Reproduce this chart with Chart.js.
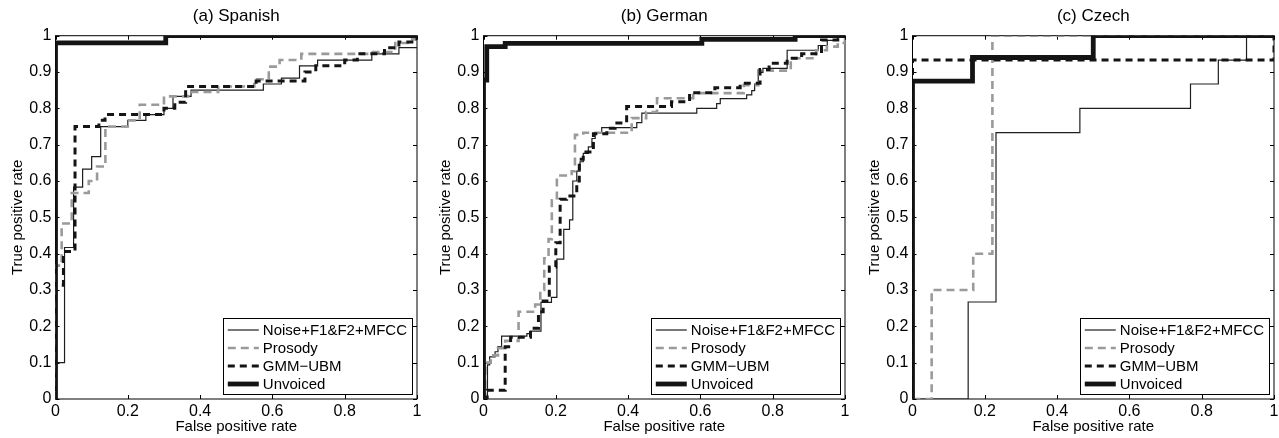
<!DOCTYPE html>
<html>
<head>
<meta charset="utf-8">
<script src="https://cdn.jsdelivr.net/npm/chart.js@4.4.1/dist/chart.umd.min.js"></script>
<style>
  body { margin: 0; background: #fff; overflow: hidden; }
  .panel { position: absolute; top: 0; width: 425px; height: 438px; }
</style>
</head>
<body>
<div class="panel" style="left:0px"><canvas id="spanish"></canvas></div>
<div class="panel" style="left:428px"><canvas id="german"></canvas></div>
<div class="panel" style="left:857px"><canvas id="czech"></canvas></div>
<script>
// series names / legend labels
const seriesNames = ['Noise+F1&F2+MFCC', 'Prosody', 'GMM\u2212UBM', 'Unvoiced'];
const xTicks = [0, 0.2, 0.4, 0.6, 0.8, 1];
const yTicks = [0, 0.1, 0.2, 0.3, 0.4, 0.5, 0.6, 0.7, 0.8, 0.9, 1];

// (a) Spanish
const esNoiseFpr = [0, 0, 0.025, 0.05, 0.075, 0.1, 0.125, 0.2, 0.25, 0.3, 0.325, 0.375, 0.575, 0.625, 0.675, 0.725, 0.875, 0.95, 1];
const esNoiseTpr = [0, 0.1, 0.417, 0.583, 0.633, 0.667, 0.75, 0.767, 0.783, 0.8, 0.833, 0.85, 0.867, 0.883, 0.917, 0.933, 0.95, 0.967, 0.967];
const esProsFpr = [0, 0, 0.017, 0.045, 0.092, 0.115, 0.138, 0.138, 0.2, 0.233, 0.3, 0.367, 0.45, 0.55, 0.59, 0.62, 0.68, 0.87, 0.94, 0.975, 1];
const esProsTpr = [0, 0.367, 0.483, 0.567, 0.6, 0.64, 0.69, 0.75, 0.767, 0.81, 0.833, 0.845, 0.86, 0.88, 0.915, 0.933, 0.95, 0.955, 0.98, 0.99, 1];
const esGmmFpr = [0, 0, 0.022, 0.054, 0.12, 0.137, 0.3, 0.33, 0.36, 0.555, 0.69, 0.72, 0.8, 0.835, 0.91, 0.95, 1];
const esGmmTpr = [0, 0.313, 0.406, 0.75, 0.767, 0.783, 0.8, 0.817, 0.86, 0.875, 0.9, 0.917, 0.933, 0.95, 0.967, 0.983, 1];
const esUnvFpr = [0, 0, 0.305, 1];
const esUnvTpr = [0, 0.98, 1, 1];

// (b) German
const deNoiseFpr = [0, 0.011, 0.017, 0.032, 0.04, 0.05, 0.12, 0.129, 0.159, 0.188, 0.203, 0.222, 0.222, 0.238, 0.247, 0.258, 0.267, 0.276, 0.29, 0.3, 0.309, 0.327, 0.424, 0.438, 0.59, 0.645, 0.655, 0.728, 0.742, 0.75, 0.76, 0.773, 0.84, 0.926, 0.951, 0.98, 1];
const deNoiseTpr = [0, 0.094, 0.116, 0.13, 0.144, 0.173, 0.18, 0.187, 0.266, 0.28, 0.385, 0.4, 0.467, 0.493, 0.6, 0.627, 0.653, 0.676, 0.694, 0.717, 0.731, 0.747, 0.761, 0.787, 0.8, 0.813, 0.827, 0.837, 0.849, 0.867, 0.899, 0.91, 0.96, 0.973, 0.987, 1, 1];
const deProsFpr = [0, 0.005, 0.02, 0.04, 0.06, 0.097, 0.097, 0.143, 0.157, 0.168, 0.18, 0.189, 0.203, 0.244, 0.253, 0.276, 0.41, 0.41, 0.45, 0.48, 0.58, 0.72, 0.76, 0.85, 0.92, 0.95, 0.98, 1];
const deProsTpr = [0, 0.1, 0.12, 0.14, 0.16, 0.2, 0.24, 0.26, 0.3, 0.387, 0.44, 0.547, 0.615, 0.627, 0.727, 0.733, 0.753, 0.773, 0.79, 0.828, 0.842, 0.864, 0.904, 0.938, 0.96, 0.97, 0.98, 1];
const deGmmFpr = [0, 0.01, 0.06, 0.075, 0.13, 0.152, 0.165, 0.182, 0.2, 0.212, 0.23, 0.258, 0.265, 0.276, 0.304, 0.341, 0.364, 0.396, 0.52, 0.57, 0.64, 0.71, 0.765, 0.79, 0.84, 0.88, 0.935, 0.98, 1];
const deGmmTpr = [0, 0.024, 0.144, 0.17, 0.195, 0.24, 0.27, 0.363, 0.43, 0.55, 0.559, 0.6, 0.66, 0.68, 0.73, 0.745, 0.76, 0.805, 0.818, 0.843, 0.857, 0.869, 0.907, 0.924, 0.938, 0.95, 0.988, 1, 1];
const deUnvFpr = [0, 0, 0.009, 0.06, 0.604, 0.862, 1];
const deUnvTpr = [0, 0.878, 0.97, 0.979, 0.99, 1, 1];

// (c) Czech
const csNoiseFpr = [0, 0.154, 0.231, 0.463, 0.769, 0.846, 0.924, 1];
const csNoiseTpr = [0, 0.267, 0.733, 0.8, 0.867, 0.933, 1, 1];
const csProsFpr = [0, 0.053, 0.168, 0.221, 1];
const csProsTpr = [0, 0.3, 0.4, 1, 1];
const csGmmFpr = [0, 0, 1, 1];
const csGmmTpr = [0, 0.933, 0.933, 1];
const csUnvFpr = [0, 0, 0.166, 0.5, 1];
const csUnvTpr = [0, 0.875, 0.94, 1, 1];

const FONT = "'Liberation Sans', Arial, Helvetica, sans-serif";

const styles = [
  { borderColor: '#1e1e1e', borderWidth: 1.2, borderDash: [], order: 4 },
  { borderColor: '#9a9a9a', borderWidth: 2.6, borderDash: [8, 5], order: 3 },
  { borderColor: '#141414', borderWidth: 3, borderDash: [7, 5], order: 2 },
  { borderColor: '#141414', borderWidth: 4.8, borderDash: [], order: 1 }
];

function pts(fpr, tpr) {
  return fpr.map((x, i) => ({ x: x, y: tpr[i] }));
}

const fmt = v => String(Number(v.toFixed(2)));

// box frame + inward ticks, plus a matlab style legend
const matlabAxes = {
  id: 'matlabAxes',
  beforeDatasetsDraw(chart) {
    const { ctx, chartArea: a, scales } = chart;
    ctx.save();
    ctx.strokeStyle = '#000';
    ctx.lineWidth = 1;
    ctx.strokeRect(a.left, a.top, a.right - a.left, a.bottom - a.top);
    ctx.beginPath();
    xTicks.forEach(v => {
      const px = Math.round(scales.x.getPixelForValue(v)) + 0.5;
      ctx.moveTo(px, a.bottom); ctx.lineTo(px, a.bottom - 4);
      ctx.moveTo(px, a.top); ctx.lineTo(px, a.top + 4);
    });
    yTicks.forEach(v => {
      const py = Math.round(scales.y.getPixelForValue(v)) + 0.5;
      ctx.moveTo(a.left, py); ctx.lineTo(a.left + 4, py);
      ctx.moveTo(a.right, py); ctx.lineTo(a.right - 4, py);
    });
    ctx.stroke();
    ctx.restore();
  },
  afterDraw(chart) {
    const { ctx, chartArea: a } = chart;
    ctx.save();
    ctx.font = '15px ' + FONT;
    const tw = Math.max(...seriesNames.map(s => ctx.measureText(s).width));
    const w = 40 + tw + 5, h = 76;
    const bx = a.right - 5 - w, by = a.bottom - 5 - h;
    ctx.fillStyle = '#fff';
    ctx.fillRect(bx, by, w, h);
    ctx.strokeStyle = '#000';
    ctx.lineWidth = 1;
    ctx.strokeRect(Math.round(bx) + 0.5, Math.round(by) + 0.5, Math.round(w), Math.round(h));
    seriesNames.forEach((name, i) => {
      const st = styles[i];
      const yy = by + 12 + i * 18;
      ctx.beginPath();
      ctx.strokeStyle = st.borderColor;
      ctx.lineWidth = st.borderWidth;
      ctx.setLineDash(st.borderDash);
      ctx.moveTo(bx + 5, yy);
      ctx.lineTo(bx + 36, yy);
      ctx.stroke();
      ctx.setLineDash([]);
      ctx.fillStyle = '#000';
      ctx.textBaseline = 'middle';
      ctx.textAlign = 'left';
      ctx.fillText(name, bx + 40, yy + 1);
    });
    ctx.restore();
  }
};

function makeChart(id, title, series) {
  const datasets = series.map((s, i) => Object.assign({
    label: seriesNames[i],
    data: pts(s[0], s[1]),
    showLine: true,
    stepped: 'before',
    pointRadius: 0,
    fill: false
  }, styles[i]));

  new Chart(document.getElementById(id), {
    type: 'scatter',
    data: { datasets: datasets },
    options: {
      responsive: true,
      maintainAspectRatio: false,
      animation: false,
      events: [],
      layout: { padding: { left: 0, right: 8, top: 0, bottom: 0 } },
      plugins: {
        legend: { display: false },
        tooltip: { enabled: false },
        title: {
          display: true,
          text: title,
          fullSize: false,
          color: '#000',
          font: { family: FONT, size: 17, weight: 'normal' },
          padding: { top: 6.6, bottom: 8.7 }
        }
      },
      scales: {
        x: {
          type: 'linear', min: 0, max: 1,
          grid: { display: false, drawTicks: false },
          border: { display: false },
          ticks: {
            stepSize: 0.2, padding: 3, color: '#000', maxRotation: 0, autoSkip: false,
            font: { family: FONT, size: 16 },
            callback: v => fmt(v)
          },
          title: {
            display: true, text: 'False positive rate', color: '#000',
            font: { family: FONT, size: 15 },
            padding: { top: 0, bottom: 2 }
          },
          afterFit: s => { s.height = 39; }
        },
        y: {
          type: 'linear', min: 0, max: 1,
          grid: { display: false, drawTicks: false },
          border: { display: false },
          ticks: {
            stepSize: 0.1, padding: 4, color: '#000', autoSkip: false,
            font: { family: FONT, size: 16 },
            callback: v => fmt(v)
          },
          title: {
            display: true, text: 'True positive rate', color: '#000',
            font: { family: FONT, size: 15 },
            padding: { top: 9, bottom: 0 }
          },
          afterFit: s => { s.width = 55.5; }
        }
      }
    },
    plugins: [matlabAxes]
  });
}

makeChart('spanish', '(a) Spanish', [
  [esNoiseFpr, esNoiseTpr], [esProsFpr, esProsTpr], [esGmmFpr, esGmmTpr], [esUnvFpr, esUnvTpr]
]);
makeChart('german', '(b) German', [
  [deNoiseFpr, deNoiseTpr], [deProsFpr, deProsTpr], [deGmmFpr, deGmmTpr], [deUnvFpr, deUnvTpr]
]);
makeChart('czech', '(c) Czech', [
  [csNoiseFpr, csNoiseTpr], [csProsFpr, csProsTpr], [csGmmFpr, csGmmTpr], [csUnvFpr, csUnvTpr]
]);
</script>
</body>
</html>
